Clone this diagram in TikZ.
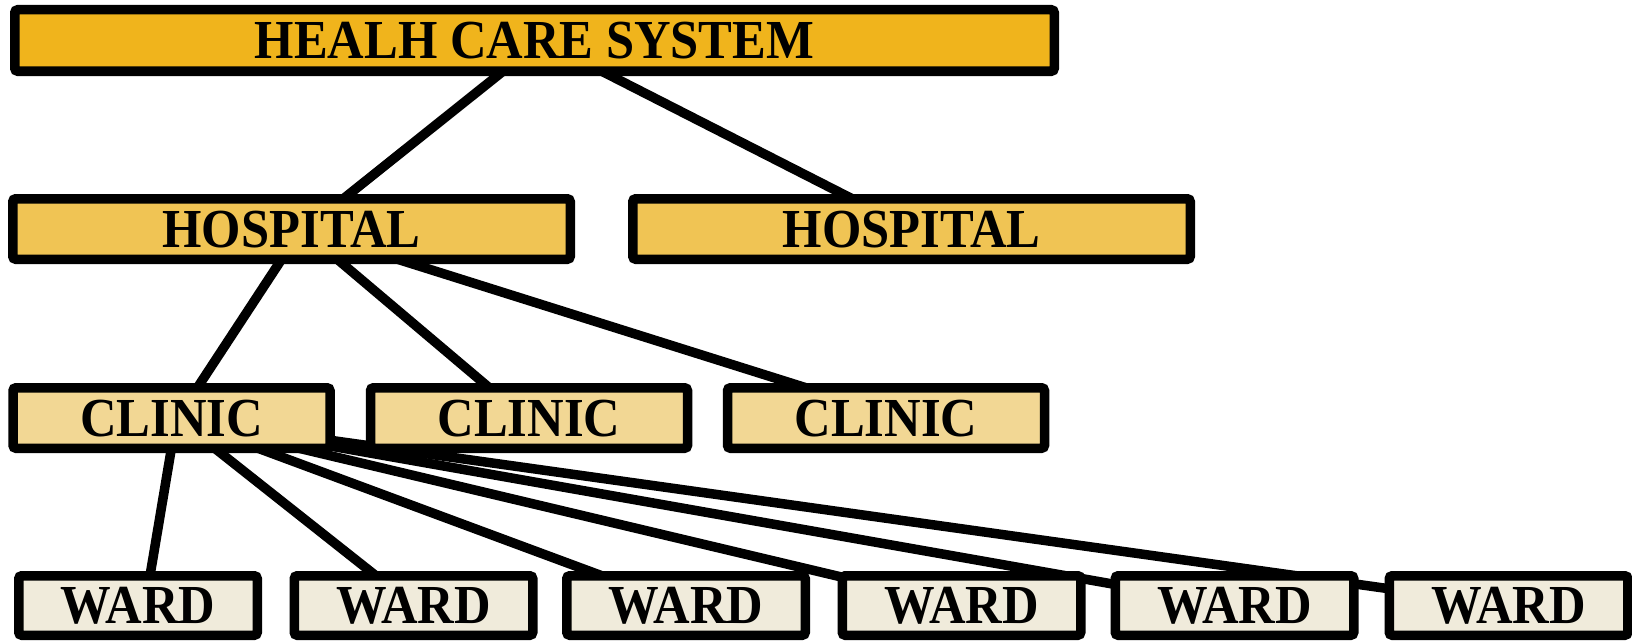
\documentclass[tikz,border=0pt]{standalone}
\usepackage{fontspec}
\setmainfont{Liberation Serif}[FakeStretch=0.92]
\usetikzlibrary{backgrounds}
\definecolor{topfill}{HTML}{F0B41C}
\definecolor{hospfill}{HTML}{F0C454}
\definecolor{clinfill}{HTML}{F2D794}
\definecolor{wardfill}{HTML}{F0EBDB}
\tikzset{
  box/.style={draw=black, line width=9.5pt, rounded corners=3pt, inner sep=0pt,
    font=\bfseries\fontsize{55}{60}\selectfont, text depth=0pt},
  topbox/.style={box, fill=topfill, minimum width=1039.5pt, minimum height=61.5pt},
  hospbox/.style={box, fill=hospfill, minimum width=557.5pt, minimum height=60.5pt},
  clinbox/.style={box, fill=clinfill, minimum width=317pt, minimum height=60.5pt},
  wardbox/.style={box, fill=wardfill, minimum width=238.5pt, minimum height=59.5pt},
  link/.style={draw=black, line width=9.5pt}
}
\begin{document}
\begin{tikzpicture}[x=1pt,y=-1pt]
\useasboundingbox (0,0) rectangle (1632,642);
\node[topbox]  (hcs) at (534.5,40.5) {HEALH CARE SYSTEM};
\node[hospbox] (h1)  at (291.5,229) {HOSPITAL};
\node[hospbox] (h2)  at (911.5,229) {HOSPITAL};
\node[clinbox] (c1)  at (171.5,418) {CLINIC};
\node[clinbox] (c2)  at (529,418) {CLINIC};
\node[clinbox] (c3)  at (886,418) {CLINIC};
\node[wardbox] (w1)  at (138,605.5) {WARD};
\node[wardbox] (w2)  at (413.5,605.5) {WARD};
\node[wardbox] (w3)  at (686,605.5) {WARD};
\node[wardbox] (w4)  at (961.5,605.5) {WARD};
\node[wardbox] (w5)  at (1234.5,605.5) {WARD};
\node[wardbox] (w6)  at (1508.5,605.5) {WARD};
\begin{pgfonlayer}{background}
\path[link] ([xshift=7pt]hcs.center) -- ([xshift=14pt]h1.center);
\path[link] ([xshift=7pt]hcs.center) -- (h2.center);
\path[link] ([xshift=10pt]h1.center) -- ([xshift=6pt]c1.center);
\path[link] ([xshift=10pt]h1.center) -- ([xshift=-4pt]c2.center);
\path[link] ([xshift=10pt]h1.center) -- ([xshift=16pt]c3.center);
\path[link] ([xshift=5pt]c1.center) -- ([xshift=7pt]w1.center);
\path[link] ([xshift=5pt]c1.center) -- (w2.center);
\path[link] ([xshift=5pt]c1.center) -- ([xshift=-4pt]w3.center);
\path[link] (c1.center) -- (w4.center);
\path[link] (c1.center) -- (w5.center);
\path[link] (c1.center) -- (w6.center);
\end{pgfonlayer}
\end{tikzpicture}
\end{document}
